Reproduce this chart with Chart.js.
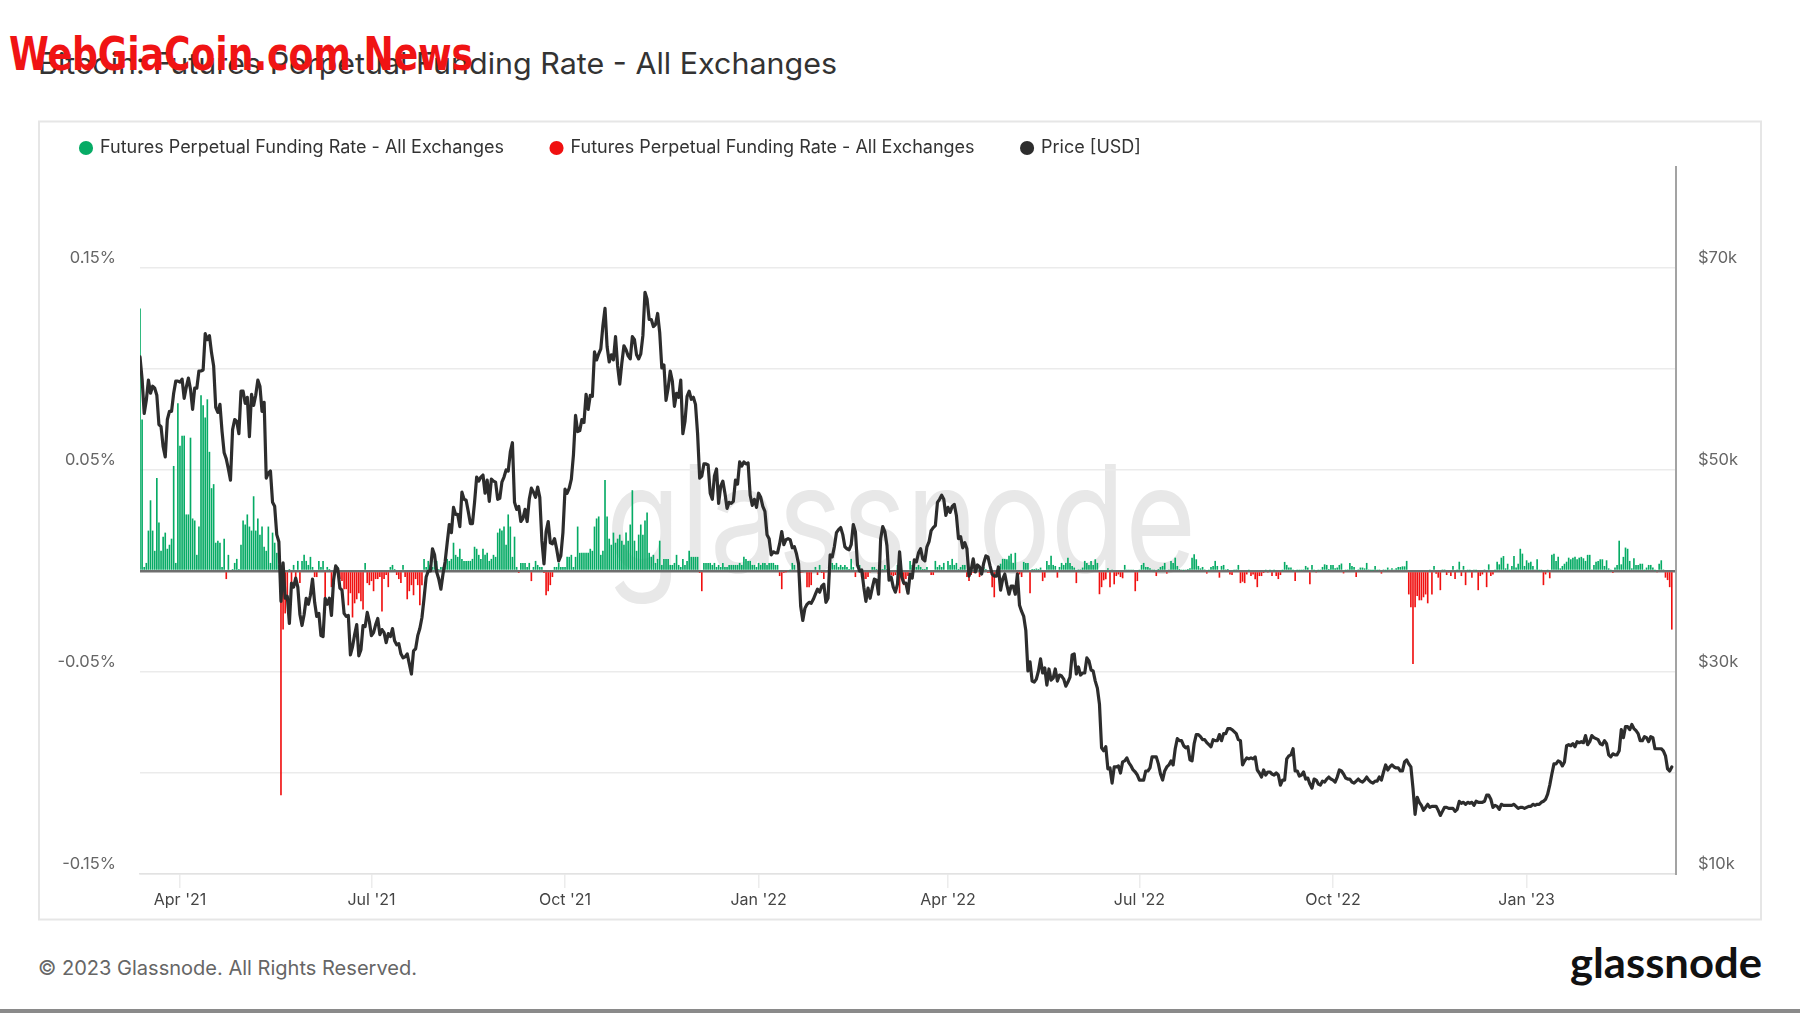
<!DOCTYPE html>
<html>
<head>
<meta charset="utf-8">
<title>Bitcoin: Futures Perpetual Funding Rate - All Exchanges</title>
<script src="https://cdn.jsdelivr.net/npm/chart.js@4.4.1/dist/chart.umd.min.js"></script>
<style>
  html, body { margin: 0; padding: 0; background: #ffffff; }
  #page { position: relative; width: 1800px; height: 1013px; overflow: hidden; background: #ffffff; }
  #bg { position: absolute; left: 0; top: 0; }
  #cv { position: absolute; left: 0; top: 0; }
</style>
</head>
<body>
<div id="page">
  <svg id="bg" width="1800" height="1013" xmlns="http://www.w3.org/2000/svg">
    <rect x="39" y="121.5" width="1722" height="798" fill="none" stroke="#e6e6e6" stroke-width="2"/>
    <text x="606" y="572" font-family="Inter, 'Open Sans', sans-serif" font-size="148" fill="#e8e8e8" textLength="590" lengthAdjust="spacingAndGlyphs">glassnode</text>
    <text x="38" y="74" font-family="Inter, 'Open Sans', sans-serif" font-size="29.5" fill="#333333" textLength="799" lengthAdjust="spacingAndGlyphs">Bitcoin: Futures Perpetual Funding Rate - All Exchanges</text>
    <text x="9" y="70" font-family="'Liberation Sans Narrow', 'DejaVu Sans Condensed', 'Liberation Sans', sans-serif" font-weight="bold" font-size="46" fill="#f01414" textLength="464" lengthAdjust="spacingAndGlyphs">WebGiaCoin.com News</text>
    <text x="38" y="975" font-family="Inter, 'Open Sans', sans-serif" font-size="20" fill="#666666" textLength="379" lengthAdjust="spacingAndGlyphs">© 2023 Glassnode. All Rights Reserved.</text>
    <text x="1762" y="978" text-anchor="end" font-family="Lato, 'Open Sans', sans-serif" font-weight="bold" font-size="42" fill="#111111" textLength="192" lengthAdjust="spacingAndGlyphs">glassnode</text>
    <rect x="0" y="1009" width="1800" height="4" fill="#8a8a8a"/>
  </svg>
  <canvas id="cv" width="1800" height="1013"></canvas>
</div>
<script>
// ---------------- DATA (daily, first day = 2021-03-13, last day = 2023-03-11) ----------------
const seriesFundingName = 'Futures Perpetual Funding Rate - All Exchanges';
const seriesPriceName = 'Price [USD]';

// Funding rate in %, one value per day (10 per line)
const fundingRate = [
  0.13,0.075,0.002,0.004,0.02,0.035,0.02,0.01,0.046,0.024,
  0.01,0.017,0.019,0.011,0.013,0.016,0.052,0.004,0.083,0.062,
  0.067,0.067,0.028,0.028,0.066,0.026,0.025,0.008,0.022,0.087,
  0.082,0.076,0.085,0.059,0.041,0.043,0.014,0.015,0.014,0.002,
  0.016,-0.004,0.008,0,0.001,0.004,0.006,0.001,0.013,0.025,
  0.023,0.028,0.022,0.02,0.037,0.02,0.026,0.018,0.022,0.012,
  0.01,0.022,0.004,0.019,0.014,0.009,0.003,-0.111,-0.029,-0.021,
  -0.013,0.001,-0.007,0.003,-0.007,0.005,-0.006,0.005,0.008,0.005,
  0.003,0.007,0.002,-0.003,-0.003,0.005,0.002,0.005,-0.014,0.002,
  0.001,-0.008,-0.005,0.003,0.002,-0.004,-0.005,-0.009,-0.009,-0.017,
  -0.011,-0.023,-0.016,-0.014,-0.011,-0.015,-0.019,0.004,-0.006,-0.007,
  -0.005,-0.01,-0.004,-0.004,-0.003,-0.02,-0.004,-0.002,-0.008,0.002,
  0.003,0.001,-0.002,-0.004,-0.006,0.003,-0.003,-0.014,-0.01,-0.007,
  -0.012,-0.004,-0.007,-0.017,-0.007,0.006,0.002,0.005,0.003,0.002,
  0.005,0.005,0.001,0.002,0.002,0.003,0.006,0.005,0.006,0.014,
  0.008,0.007,0.011,0.006,0.005,0.005,0.005,0.005,0.006,0.012,
  0.011,0.008,0.006,0.011,0.008,0.009,0.005,0.006,0.008,0.007,
  0.019,0.021,0.02,0.022,0.013,0.028,0.022,0.007,0.017,0.002,
  -0.001,0.004,0.004,0.004,0.002,0.004,-0.005,0.002,0.005,0.003,
  0.002,0.002,-0.001,-0.012,-0.01,-0.007,-0.003,0.002,0.002,0.004,
  0.002,0.002,0.002,0.007,0.007,0.008,0.002,0.007,0.022,0.009,
  0.009,0.009,0.009,0.009,0.011,0.01,0.022,0.026,0.027,0.008,
  0.01,0.045,0.027,0.016,0.013,0.019,0.014,0.016,0.018,0.015,
  0.013,0.019,0.015,0.023,0.04,0.015,0.01,0.018,0.023,0.018,
  0.025,0.029,0.009,0.007,0.008,0.004,0.006,0.015,0.003,0.006,
  0.006,0.006,0.003,0.003,0.004,0.008,0.003,0.002,0.006,0.003,
  0.005,0.01,0.007,0.007,0.007,0.007,-0.001,-0.01,0.004,0.004,
  0.004,0.004,0.003,0.004,0.002,0.003,0.002,0.004,0.002,0.002,
  0.003,0.003,0.003,0.003,0.003,0.004,0.003,0.007,0.006,0.005,
  0.005,0.003,0.003,0.002,0.004,0.003,0.004,0.004,0.003,0.004,
  0.004,0.004,0.003,0.003,-0.0025,-0.009,-0.001,-0.0003,0,0.0003,
  0.004,0.003,0,-0.0005,-0.001,-0.0005,0,-0.008,-0.008,-0.007,
  0,0.002,-0.002,0.003,-0.001,-0.004,-0.0005,0,0,0.004,
  0.003,0.004,0.002,0.003,0.002,0.003,0.002,0.001,0.006,0.002,
  -0.003,0,0.003,-0.003,-0.004,-0.004,-0.003,-0.0005,0.002,0.002,
  0.001,-0.0015,0.001,0.001,0.003,0.001,-0.003,-0.002,-0.0025,-0.002,
  0.003,-0.011,-0.004,-0.007,-0.004,-0.0025,0.005,0.003,0.002,0.002,
  0.003,0.002,0.001,0.001,0.002,0,-0.002,-0.002,0.005,0.002,
  0.003,0.002,0.004,0,0.005,0.003,0.006,0.003,0.004,0.001,
  0.002,0.003,0.003,-0.003,-0.005,-0.002,-0.001,-0.001,0.001,-0.003,
  -0.001,0.002,0.001,-0.001,-0.001,-0.008,-0.013,-0.001,0.0017,0.0036,
  0.006,0.006,0.0058,0.0075,0.0086,0.004,0.009,-0.0033,-0.0017,-0.003,
  0.0045,0.004,0.004,-0.011,0.001,0.001,0.0012,0.001,0.0017,-0.005,
  -0.0033,0.005,0.003,0.0075,0.003,0.0025,-0.0033,0.002,0.004,0.003,
  0.004,0.0066,0.004,0.0025,0.0017,-0.006,0.0008,0.0008,0.0017,0.005,
  0.004,0.003,0.005,0.003,0.0058,0.004,-0.0115,-0.008,-0.0046,-0.0041,
  0.0013,-0.008,0.0008,-0.0066,-0.0025,-0.0017,-0.003,-0.0036,0.003,0.0008,
  0.0008,0.0008,0.0008,-0.01,-0.005,0.0003,0.003,0.004,0.002,0.002,
  0.0013,0.0005,0.0003,-0.0025,0.001,0.002,0.0025,0.004,-0.0013,0.0008,
  0.005,0.004,0.0066,0.0025,0.001,0.0005,0.0003,0.0005,0.001,0.0013,
  0.0066,0.0083,0.0058,0.0025,0.0013,0.002,0.0008,-0.0013,0.0003,0.002,
  0.0025,0.005,0.0025,-0.0033,0.0025,0.003,0.0008,0.001,-0.0017,-0.002,
  0.0003,0.0008,0.003,-0.006,-0.0053,-0.006,-0.0017,0.0003,-0.0025,-0.0017,
  -0.0041,-0.008,-0.0025,-0.0025,-0.001,0.0003,-0.0008,0.0003,-0.0025,0.0003,
  -0.0025,-0.004,-0.002,0.0001,0.0045,0.003,0.0017,0.0017,0.0003,-0.005,
  0.0003,0.0003,0.0003,0.0008,0.0025,0.0017,-0.0066,0.003,0.0003,-0.0008,
  0.0003,0.0003,0.002,0.0033,0.003,0.001,0.003,0.003,0.0013,0.0017,
  0.003,0.0037,-0.0012,0.0003,0.0008,0.004,0.0025,0.002,-0.003,0.0008,
  0.0017,0.0017,0.0013,0.004,0.0008,0.0003,0.0003,0.0025,0.0003,0.0008,
  -0.0013,0.0008,0.0003,0.0017,0.0008,0.0013,0.0008,0.0013,0.002,0.002,
  0.0023,0.0023,0.005,-0.0116,-0.018,-0.046,-0.018,-0.0124,-0.0145,-0.0145,
  -0.013,-0.0116,-0.016,0.0003,-0.0116,0.0025,-0.0013,-0.0033,-0.0095,0.0008,
  0.0008,-0.002,-0.0008,-0.0025,0.0025,-0.004,0.0003,0.0046,-0.0025,0.0025,
  -0.007,0.0003,0.0003,-0.0033,0.0008,0.0003,-0.0095,-0.0025,-0.0017,0.0008,
  -0.008,0.0033,-0.0025,-0.0017,0.0003,0.0046,0.0033,0.0066,0.0074,0.0013,
  0.0036,0.0003,0.0025,0.0074,0.0017,0.0036,0.011,0.0086,0.0025,0.0053,
  0.0041,0.0046,0.0025,0.0008,0.0058,0.0003,0.0003,-0.007,-0.0017,0.0003,
  -0.0036,0.008,0.0086,0.005,0.007,0.0013,0.0025,0.0036,0.0046,0.0066,
  0.0058,0.0066,0.007,0.0058,0.0066,0.007,0.0063,0.005,0.008,0.008,
  0.0008,0.003,0.0046,0.005,0.0058,0.0058,0.0025,0.0053,0.0013,0.0003,
  -0.001,0.0017,0.003,0.015,0.0033,0.007,0.0116,0.011,0.005,0.0013,
  0.0063,0.003,0.003,0.0036,0.0036,0.0003,0.0017,0.003,0.003,0.0017,
  0.0003,-0.0008,0.0036,0.0053,0.0008,-0.0033,-0.0045,-0.008,-0.029
];

// BTC price in thousands of USD, one value per day (one line per month)
const priceK = [
  61.2,59.0,55.6,56.9,58.9,57.6,58.3,58.1,57.4,54.5,54.3,52.3,51.3,55.0,55.8,55.8,57.6,58.8,58.8,
  58.7,59.0,57.1,58.2,59.1,58.0,56.0,58.1,58.1,59.8,59.8,59.9,63.5,62.9,63.3,61.6,60.3,56.2,55.7,56.5,53.8,51.7,51.1,50.1,49.0,54.0,55.0,54.8,53.6,57.8,
  57.8,56.6,57.2,53.3,57.5,56.4,57.4,58.9,58.3,55.8,56.7,49.2,49.7,49.9,46.8,46.4,43.6,42.9,37.0,40.8,37.3,37.5,34.8,38.8,38.4,39.3,38.4,35.7,34.6,35.7,37.3,
  36.7,37.6,39.2,36.9,35.5,35.8,33.6,33.5,37.3,36.7,37.3,35.6,39.1,40.5,40.2,38.3,38.1,35.8,35.5,35.6,31.7,32.5,33.7,34.7,31.6,32.2,34.6,34.5,35.9,35.0,
  33.6,33.9,34.7,35.3,33.7,34.2,33.9,32.9,33.8,33.5,34.3,33.1,32.7,32.8,31.8,31.4,31.5,31.8,30.8,29.8,32.1,32.3,33.6,34.3,35.4,37.3,39.4,40.0,40.0,42.2,41.6,
  39.9,39.2,38.2,39.7,40.9,42.8,44.6,43.8,46.3,45.6,45.6,44.4,47.8,47.1,47.0,45.9,44.7,44.7,46.8,49.3,48.9,49.3,49.5,47.7,49.0,46.9,49.1,48.9,48.8,47.1,47.2,
  48.8,49.3,50.0,49.9,51.8,52.7,46.8,46.1,46.4,44.9,45.2,46.1,44.9,47.1,48.2,47.8,47.3,48.3,47.3,43.0,40.7,43.9,44.9,42.8,42.7,43.2,42.2,41.0,41.5,43.8,
  48.1,47.7,48.2,49.1,51.5,55.4,53.8,53.9,55.0,54.7,57.5,56.0,57.4,57.3,61.7,60.9,61.5,62.0,64.3,66.0,62.2,60.7,61.4,60.9,63.2,60.3,58.5,60.6,62.3,61.9,61.3,
  61.0,63.2,62.9,61.4,61.0,61.5,63.3,67.6,66.9,64.9,64.9,64.2,64.4,65.5,63.6,60.1,60.4,56.9,58.1,59.8,58.8,56.3,57.6,57.2,58.9,53.6,54.8,57.3,57.8,57.0,
  57.2,56.5,53.6,49.2,49.4,50.6,50.6,50.5,47.7,47.1,49.4,50.1,46.7,48.4,48.9,47.7,46.2,46.8,46.7,46.9,49.0,48.6,50.8,50.4,50.8,50.6,50.7,47.5,46.5,47.1,46.3,
  47.7,47.3,46.4,45.9,43.6,43.2,41.6,41.9,41.8,41.8,42.7,43.9,42.6,43.1,43.2,43.1,42.3,42.4,41.7,40.7,36.5,35.1,36.3,36.7,36.9,36.8,37.2,37.7,38.2,37.9,38.5,
  38.7,36.9,37.3,41.6,41.4,42.4,43.8,44.1,44.3,43.6,42.4,42.2,42.1,42.6,44.6,43.9,40.6,40.0,40.1,38.4,37.0,38.3,37.3,38.3,39.2,39.1,37.7,43.2,
  44.4,43.9,42.5,39.1,39.4,38.4,37.9,38.7,41.9,39.4,38.8,38.8,37.8,39.7,39.3,41.1,40.9,41.8,42.2,41.2,41.0,42.4,42.9,44.0,44.3,44.5,46.8,47.1,47.5,47.1,45.5,
  46.3,45.8,46.4,46.6,45.5,43.2,43.4,42.3,42.8,42.2,39.5,40.1,41.2,39.9,40.6,40.4,39.7,40.8,41.5,41.4,40.5,39.7,39.5,39.5,40.4,38.1,39.2,39.7,38.6,37.7,
  38.5,38.5,37.7,39.7,36.6,36.0,35.5,34.1,30.1,31.0,29.1,29.0,29.3,30.1,31.3,29.9,30.4,28.7,30.3,29.2,29.4,30.3,29.1,29.7,29.6,29.3,28.6,29.0,29.5,31.7,31.8,
  29.8,30.5,29.7,29.9,29.9,31.4,31.1,30.2,30.1,29.1,28.4,26.8,22.5,22.2,22.6,20.4,20.5,19.0,20.6,20.6,20.7,20.0,21.1,21.2,21.5,21.0,20.7,20.3,20.1,19.8,
  19.3,19.3,19.3,20.2,20.2,20.5,21.6,21.6,21.6,20.9,19.9,19.3,20.2,20.6,20.8,21.2,20.8,22.4,23.4,23.2,23.2,22.7,22.5,22.6,21.3,21.2,22.9,23.8,23.8,23.6,23.3,
  23.3,23.0,22.8,22.6,23.3,23.2,23.2,23.8,23.2,23.9,23.9,24.4,24.4,24.3,24.1,23.9,23.3,23.2,20.8,21.2,21.5,21.4,21.5,21.4,21.6,20.3,20.0,19.6,20.3,19.8,20.1,
  20.1,19.9,19.8,20.0,19.8,18.8,19.3,19.3,21.4,21.7,21.8,22.4,20.2,20.2,19.7,19.8,20.1,19.4,19.5,18.9,18.5,19.4,19.3,18.9,18.8,19.2,19.1,19.4,19.6,19.4,
  19.3,19.1,19.6,20.3,20.2,19.9,19.5,19.4,19.4,19.1,19.0,19.2,19.4,19.2,19.1,19.3,19.6,19.3,19.1,19.0,19.2,19.2,19.6,19.3,20.1,20.8,20.3,20.6,20.8,20.6,20.5,
  20.5,20.2,20.2,21.1,21.3,20.9,20.6,18.5,15.9,17.6,17.1,16.8,16.3,16.6,16.9,16.6,16.7,16.7,16.7,16.3,15.8,16.2,16.6,16.6,16.5,16.5,16.5,16.2,16.4,17.2,
  17.0,17.1,16.9,17.1,17.0,17.1,16.8,17.2,17.1,17.1,17.1,17.2,17.8,17.8,17.4,16.6,16.8,16.7,16.4,16.9,16.8,16.8,16.8,16.8,16.8,16.9,16.7,16.5,16.6,16.6,16.5,
  16.6,16.7,16.7,16.9,16.8,16.9,16.9,17.1,17.2,17.4,17.9,18.8,19.9,20.9,20.9,21.2,21.1,20.7,21.1,22.7,22.8,22.7,22.9,22.6,23.1,23.0,23.1,23.0,23.7,22.8,23.1,
  23.7,23.5,23.4,23.3,22.9,22.8,23.2,22.9,21.8,21.6,21.9,21.8,21.8,22.2,24.3,23.5,24.6,24.6,24.3,24.8,24.4,24.2,23.9,23.2,23.2,23.6,23.5,23.1,
  23.6,23.5,22.4,22.4,22.4,22.4,22.2,21.7,20.4,20.2,20.6
];

// X axis: day index of each quarter start and its label
const tickDays = [19, 110, 202, 294, 384, 475, 567, 659];
const tickLabels = ["Apr '21", "Jul '21", "Oct '21", "Jan '22", "Apr '22", "Jul '22", "Oct '22", "Jan '23"];

// Left axis (funding %) and right axis (price, $k)
const fundingTickValues = [-0.15, -0.1, -0.05, 0, 0.05, 0.1, 0.15];
const fundingTickLabels = ['-0.15%', '', '-0.05%', '', '0.05%', '', '0.15%'];
const priceTickValues = [10, 20, 30, 40, 50, 60, 70];
const priceTickLabels = ['$10k', '', '$30k', '', '$50k', '', '$70k'];

// ---------------- CHART ----------------
const GREEN = '#06ab65';
const RED = '#f01010';
const BLACK = '#2d2d2d';

const posPts = fundingRate.map((v, i) => ({ x: i, y: v >= 0 ? v : null }));
const negPts = fundingRate.map((v, i) => ({ x: i, y: v < 0 ? v : null }));
const pricePts = priceK.map((v, i) => ({ x: i, y: v }));

Chart.defaults.font.family = "Inter, 'Open Sans', sans-serif";
Chart.defaults.color = '#666666';

new Chart(document.getElementById('cv'), {
  type: 'bar',
  data: {
    datasets: [
      { type: 'bar', label: seriesFundingName, data: posPts, backgroundColor: GREEN, borderWidth: 0,
        yAxisID: 'y', order: 2, grouped: false, barPercentage: 0.78, categoryPercentage: 1 },
      { type: 'bar', label: seriesFundingName, data: negPts, backgroundColor: RED, borderWidth: 0,
        yAxisID: 'y', order: 3, grouped: false, barPercentage: 0.78, categoryPercentage: 1 },
      { type: 'line', label: seriesPriceName, data: pricePts, borderColor: BLACK, backgroundColor: BLACK,
        borderWidth: 3.2, pointRadius: 0, tension: 0, yAxisID: 'y1', order: 1,
        borderJoinStyle: 'round', borderCapStyle: 'round' }
    ]
  },
  options: {
    responsive: false,
    animation: false,
    devicePixelRatio: 1,
    layout: { padding: { left: 33.5, right: 40, top: 91.5, bottom: 89 } },
    plugins: {
      tooltip: { enabled: false },
      legend: {
        display: true,
        position: 'top',
        align: 'start',
        onClick: null,
        labels: {
          usePointStyle: true,
          pointStyle: 'circle',
          boxWidth: 10,
          boxHeight: 10,
          padding: 47.5,
          color: '#333333',
          font: { size: 18 },
          sort: (a, b) => a.datasetIndex - b.datasetIndex,
          generateLabels: (chart) => {
            const items = Chart.defaults.plugins.legend.labels.generateLabels(chart);
            items.forEach(it => { it.lineWidth = 0; it.strokeStyle = it.fillStyle; it.pointStyle = 'circle'; });
            return items;
          }
        }
      }
    },
    scales: {
      x: {
        type: 'linear',
        min: 0,
        max: 730,
        offset: false,
        afterBuildTicks: (ax) => { ax.ticks = tickDays.map(v => ({ value: v })); },
        afterFit: (ax) => { ax.height = 50; },
        ticks: {
          autoSkip: false,
          maxRotation: 0,
          color: '#444444',
          font: { size: 16 },
          padding: 3,
          callback: (v, i) => tickLabels[i]
        },
        grid: { offset: false, drawOnChartArea: false, drawTicks: true, tickLength: 14, color: '#ececec', lineWidth: 1.5 },
        border: { display: true, color: '#e2e2e2', width: 1.5 }
      },
      y: {
        position: 'left',
        min: -0.15,
        max: 0.2,
        afterBuildTicks: (ax) => { ax.ticks = fundingTickValues.map(v => ({ value: v })); },
        afterFit: (ax) => { ax.width = 106.5; },
        ticks: {
          color: '#666666',
          font: { size: 16.5 },
          padding: 24,
          labelOffset: -9.5,
          callback: (v, i) => fundingTickLabels[i]
        },
        grid: {
          drawTicks: false,
          color: (c) => (c.tick && Math.abs(c.tick.value) < 1e-9) ? '#6e6e6e' : '#ebebeb',
          lineWidth: (c) => (c.tick && Math.abs(c.tick.value) < 1e-9) ? 2.5 : 1.5
        },
        border: { display: false }
      },
      y1: {
        position: 'right',
        min: 10,
        max: 80,
        afterBuildTicks: (ax) => { ax.ticks = priceTickValues.map(v => ({ value: v })); },
        afterFit: (ax) => { ax.width = 84; },
        ticks: {
          color: '#666666',
          font: { size: 16.5 },
          padding: 22,
          labelOffset: -9.5,
          callback: (v, i) => priceTickLabels[i]
        },
        grid: { drawOnChartArea: false, drawTicks: false },
        border: { display: true, color: '#a3a3a3', width: 2 }
      }
    }
  }
});
</script>
</body>
</html>
